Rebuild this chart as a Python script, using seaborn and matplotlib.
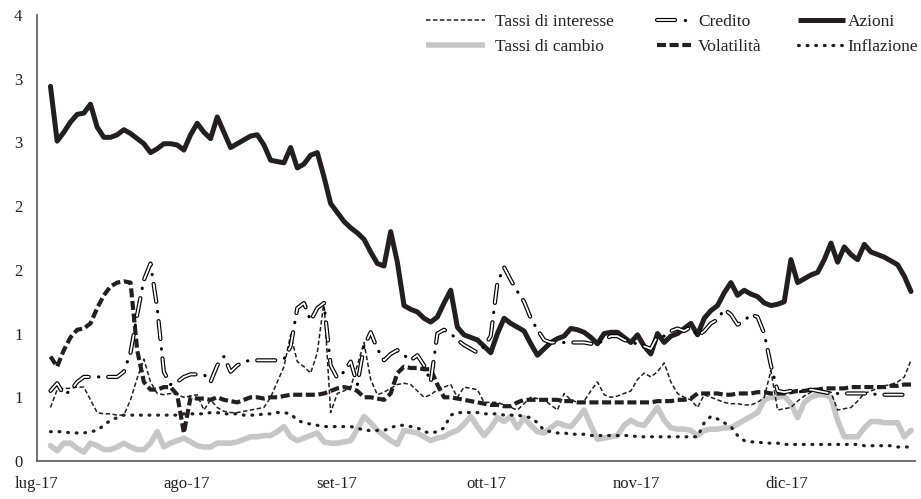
import numpy as np
import pandas as pd
import seaborn as sns
import matplotlib.pyplot as plt
from matplotlib.lines import Line2D
from matplotlib.legend_handler import HandlerTuple

# Axis labels
months = ["lug-17", "ago-17", "set-17", "ott-17", "nov-17", "dic-17"]
y_ticks = [0, 0.5, 1, 1.5, 2, 2.5, 3, 3.5]
y_labels = ["0", "1", "1", "2", "2", "3", "3", "4"]

# Daily series (business days, Jul-Dec 2017)
tassi_interesse = [
    0.42, 0.56, 0.57, 0.57, 0.58, 0.58, 0.48, 0.38, 0.37, 0.37,
    0.36, 0.36, 0.48, 0.65, 0.80, 0.62, 0.53, 0.52, 0.53, 0.52,
    0.50, 0.51, 0.52, 0.40, 0.48, 0.42, 0.39, 0.38, 0.38, 0.39,
    0.40, 0.41, 0.42, 0.50, 0.62, 0.74, 0.99, 0.78, 0.74, 0.69,
    0.85, 1.25, 0.38, 0.53, 0.55, 0.58, 0.75, 0.93, 0.64, 0.52,
    0.54, 0.57, 0.60, 0.61, 0.60, 0.55, 0.50, 0.52, 0.56, 0.58,
    0.60, 0.50, 0.58, 0.57, 0.56, 0.46, 0.46, 0.46, 0.44, 0.42,
    0.40, 0.45, 0.50, 0.49, 0.48, 0.44, 0.40, 0.53, 0.48, 0.46,
    0.47, 0.55, 0.62, 0.52, 0.50, 0.51, 0.53, 0.55, 0.64, 0.69,
    0.66, 0.70, 0.77, 0.62, 0.53, 0.50, 0.48, 0.42, 0.52, 0.50,
    0.48, 0.46, 0.45, 0.45, 0.44, 0.44, 0.46, 0.50, 0.71, 0.40,
    0.41, 0.42, 0.47, 0.51, 0.54, 0.56, 0.55, 0.54, 0.40, 0.41,
    0.42, 0.47, 0.53, 0.55, 0.57, 0.59, 0.60, 0.62, 0.66, 0.79,
]
tassi_cambio = [
    0.12, 0.08, 0.14, 0.14, 0.10, 0.07, 0.14, 0.12, 0.09, 0.09,
    0.11, 0.14, 0.11, 0.09, 0.09, 0.14, 0.23, 0.11, 0.14, 0.16,
    0.18, 0.15, 0.12, 0.11, 0.11, 0.14, 0.14, 0.14, 0.15, 0.17,
    0.19, 0.19, 0.20, 0.20, 0.23, 0.27, 0.19, 0.16, 0.18, 0.20,
    0.22, 0.15, 0.14, 0.14, 0.15, 0.16, 0.25, 0.35, 0.30, 0.24,
    0.20, 0.16, 0.13, 0.24, 0.23, 0.22, 0.19, 0.16, 0.18, 0.19,
    0.22, 0.24, 0.29, 0.35, 0.27, 0.20, 0.26, 0.34, 0.31, 0.35,
    0.26, 0.34, 0.28, 0.23, 0.22, 0.26, 0.30, 0.28, 0.27, 0.33,
    0.40, 0.28, 0.17, 0.18, 0.19, 0.20, 0.28, 0.32, 0.29, 0.28,
    0.35, 0.42, 0.32, 0.26, 0.25, 0.25, 0.24, 0.20, 0.24, 0.25,
    0.25, 0.26, 0.26, 0.29, 0.32, 0.35, 0.38, 0.48, 0.50, 0.50,
    0.51, 0.45, 0.34, 0.46, 0.50, 0.52, 0.52, 0.50, 0.32, 0.19,
    0.19, 0.19, 0.26, 0.31, 0.31, 0.30, 0.30, 0.30, 0.19, 0.24,
]
credito = [
    0.55, 0.61, 0.52, 0.55, 0.62, 0.66, 0.66, 0.66, 0.66, 0.66,
    0.66, 0.70, 0.85, 1.15, 1.42, 1.55, 1.20, 0.70, 0.60, 0.62,
    0.66, 0.68, 0.68, 0.68, 0.62, 0.75, 0.82, 0.70, 0.75, 0.78,
    0.79, 0.79, 0.79, 0.79, 0.79, 0.80, 0.90, 1.20, 1.24, 1.10,
    1.20, 1.24, 0.75, 0.65, 0.70, 0.78, 0.60, 0.90, 1.01, 0.88,
    0.79, 0.84, 0.87, 0.83, 0.79, 0.83, 0.75, 0.62, 1.00, 1.03,
    1.00, 0.95, 0.91, 0.88, 0.85, 0.90, 0.98, 1.40, 1.52, 1.42,
    1.33, 1.25, 1.12, 1.03, 0.95, 0.93, 0.93, 0.93, 0.93, 0.93,
    0.93, 0.92, 0.92, 0.95, 0.98, 0.98, 0.95, 0.93, 0.92, 0.90,
    0.88, 0.98, 0.98, 1.02, 1.04, 1.02, 1.05, 0.98, 1.02, 1.08,
    1.11, 1.19, 1.15, 1.07, 1.10, 1.15, 1.13, 1.00, 0.75, 0.55,
    0.54, 0.55, 0.54, 0.55, 0.56, 0.55, 0.54, 0.53, 0.53, 0.53,
    0.53, 0.53, 0.53, 0.53, 0.52, 0.52, 0.52, 0.52, 0.52, 0.52,
]
volatilita = [
    0.82, 0.74, 0.87, 0.97, 1.03, 1.04, 1.08, 1.20, 1.30, 1.37,
    1.40, 1.41, 1.40, 0.87, 0.62, 0.56, 0.56, 0.58, 0.58, 0.52,
    0.22, 0.50, 0.49, 0.49, 0.48, 0.50, 0.48, 0.47, 0.46, 0.48,
    0.50, 0.50, 0.49, 0.50, 0.50, 0.51, 0.52, 0.52, 0.52, 0.52,
    0.52, 0.53, 0.55, 0.57, 0.58, 0.57, 0.55, 0.50, 0.50, 0.49,
    0.48, 0.53, 0.69, 0.74, 0.73, 0.73, 0.72, 0.72, 0.60, 0.50,
    0.50, 0.49, 0.48, 0.47, 0.46, 0.45, 0.44, 0.44, 0.43, 0.43,
    0.46, 0.48, 0.48, 0.48, 0.48, 0.48, 0.48, 0.47, 0.47, 0.46,
    0.46, 0.46, 0.46, 0.46, 0.46, 0.46, 0.46, 0.46, 0.46, 0.46,
    0.46, 0.47, 0.47, 0.47, 0.48, 0.48, 0.49, 0.53, 0.53, 0.53,
    0.53, 0.52, 0.52, 0.53, 0.53, 0.53, 0.54, 0.54, 0.53, 0.53,
    0.53, 0.54, 0.55, 0.55, 0.56, 0.56, 0.57, 0.57, 0.57, 0.57,
    0.58, 0.58, 0.58, 0.58, 0.58, 0.58, 0.59, 0.59, 0.60, 0.60,
]
azioni = [
    2.94, 2.51, 2.58, 2.66, 2.72, 2.73, 2.80, 2.62, 2.54, 2.54,
    2.56, 2.60, 2.57, 2.53, 2.49, 2.42, 2.45, 2.49, 2.49, 2.48,
    2.44, 2.56, 2.65, 2.58, 2.53, 2.70, 2.58, 2.46, 2.49, 2.52,
    2.55, 2.56, 2.48, 2.36, 2.35, 2.34, 2.46, 2.30, 2.33, 2.40,
    2.42, 2.23, 2.02, 1.95, 1.88, 1.83, 1.79, 1.74, 1.64, 1.55,
    1.53, 1.80, 1.56, 1.22, 1.19, 1.17, 1.12, 1.09, 1.13, 1.24,
    1.34, 1.05, 0.99, 0.97, 0.95, 0.90, 0.85, 1.00, 1.12, 1.08,
    1.05, 1.02, 0.92, 0.83, 0.88, 0.93, 0.96, 0.98, 1.04, 1.03,
    1.01, 0.97, 0.92, 1.00, 1.01, 1.01, 0.97, 0.93, 0.99, 0.90,
    0.84, 1.00, 0.93, 0.98, 1.00, 1.04, 1.08, 0.99, 1.12, 1.18,
    1.22, 1.32, 1.40, 1.30, 1.34, 1.31, 1.29, 1.24, 1.22, 1.23,
    1.25, 1.58, 1.40, 1.43, 1.46, 1.48, 1.58, 1.71, 1.56, 1.68,
    1.62, 1.58, 1.70, 1.64, 1.62, 1.60, 1.57, 1.54, 1.45, 1.33,
]
inflazione = [
    0.23, 0.23, 0.23, 0.22, 0.22, 0.22, 0.23, 0.24, 0.28, 0.32,
    0.34, 0.36, 0.36, 0.36, 0.36, 0.36, 0.36, 0.36, 0.36, 0.36,
    0.37, 0.37, 0.37, 0.37, 0.38, 0.38, 0.37, 0.37, 0.37, 0.36,
    0.36, 0.36, 0.37, 0.37, 0.38, 0.38, 0.37, 0.32, 0.30, 0.29,
    0.28, 0.27, 0.27, 0.27, 0.27, 0.27, 0.26, 0.24, 0.24, 0.24,
    0.24, 0.26, 0.28, 0.28, 0.27, 0.26, 0.23, 0.22, 0.23, 0.26,
    0.36, 0.38, 0.38, 0.38, 0.38, 0.37, 0.37, 0.37, 0.36, 0.36,
    0.36, 0.35, 0.34, 0.30, 0.24, 0.23, 0.22, 0.22, 0.21, 0.21,
    0.21, 0.20, 0.20, 0.20, 0.20, 0.20, 0.20, 0.20, 0.19, 0.19,
    0.19, 0.19, 0.19, 0.19, 0.19, 0.19, 0.19, 0.19, 0.30, 0.35,
    0.33, 0.30, 0.27, 0.20, 0.16, 0.15, 0.15, 0.14, 0.14, 0.14,
    0.13, 0.13, 0.13, 0.13, 0.13, 0.13, 0.13, 0.13, 0.13, 0.13,
    0.13, 0.13, 0.12, 0.12, 0.12, 0.12, 0.12, 0.11, 0.11, 0.11,
]

df = pd.DataFrame({
    "Tassi di interesse": tassi_interesse,
    "Tassi di cambio": tassi_cambio,
    "Credito": credito,
    "Volatilità": volatilita,
    "Azioni": azioni,
    "Inflazione": inflazione,
})
df["obs"] = np.arange(len(df))

sns.set_style("white")
plt.rcParams["font.family"] = ["Liberation Serif", "DejaVu Serif"]
plt.rcParams["lines.scale_dashes"] = False

ink = "#231f20"
axis_grey = "#595959"

fig = plt.figure(figsize=(9.21, 4.99), dpi=100)
ax = fig.add_axes([37 / 921, 38 / 499, (915 - 37) / 921, (461 - 15) / 499])

# styles: (color, linewidth, linestyle, capstyle)
styles = {
    "Tassi di cambio": ("#c6c6c6", 4.0, "-", "round"),
    "Azioni": (ink, 3.6, "-", "round"),
    "Volatilità": (ink, 3.0, (0, (6.5, 2.6)), "butt"),
    "Tassi di interesse": (ink, 1.1, (0, (3.2, 1.8)), "butt"),
    "Inflazione": (ink, 2.3, (0, (0.6, 5.6)), "round"),
}
handles = {}
for name, (col, lw, ls, cap) in styles.items():
    sns.lineplot(data=df, x="obs", y=name, ax=ax, color=col, linewidth=lw,
                 solid_joinstyle="round", solid_capstyle="round")
    line = ax.lines[-1]
    line.set_linestyle(ls)
    line.set_dash_capstyle(cap)
    handles[name] = Line2D([], [], color=col, linewidth=lw, linestyle=ls,
                           dash_capstyle=cap, solid_capstyle="butt")

# Credito: hollow dash plus a dot
credito_parts = [
    ("black", 3.0, (0, (13, 14)), "round"),
    ("white", 1.3, (0, (13, 14)), "round"),
    ("black", 2.2, (7, (0.3, 26.7)), "round"),
]
credito_handles = []
for col, lw, ls, cap in credito_parts:
    sns.lineplot(data=df, x="obs", y="Credito", ax=ax, color=col, linewidth=lw)
    line = ax.lines[-1]
    line.set_linestyle(ls)
    line.set_dash_capstyle(cap)
    credito_handles.append(Line2D([], [], color=col, linewidth=lw, linestyle=ls,
                                  dash_capstyle=cap))
handles["Credito"] = tuple(credito_handles)

ax.set_xlim(-2.02, 129.6)
ax.set_ylim(0, 3.5)
ax.set_xticks([-2.02 + 22.475 * k for k in range(len(months))])
ax.set_xticklabels(months)
ax.set_yticks(y_ticks)
ax.set_yticklabels(y_labels)
ax.set_xlabel("")
ax.set_ylabel("")

for side in ["top", "right"]:
    ax.spines[side].set_visible(False)
for side in ["left", "bottom"]:
    ax.spines[side].set_color(axis_grey)
    ax.spines[side].set_linewidth(1.2)
ax.tick_params(axis="both", direction="out", length=5.5, width=1.2,
               color=axis_grey, labelsize=12, labelcolor=ink)
ax.tick_params(axis="y", pad=5)
ax.tick_params(axis="x", pad=5)

# legend columns: labels, left pixel, handle length, text pad
columns = [
    (["Tassi di interesse", "Tassi di cambio"], 426, 3.4, 0.55),
    (["Credito", "Volatilità"], 657, 1.95, 0.4),
    (["Azioni", "Inflazione"], 798, 2.7, 0.15),
]
for names, xpix, hlen, tpad in columns:
    leg = fig.legend([handles[n] for n in names], names,
                     loc="upper left", bbox_to_anchor=(xpix / 921, 1 - 14 / 499),
                     frameon=False, borderpad=0, borderaxespad=0,
                     handlelength=hlen, handletextpad=tpad, labelspacing=0.52,
                     fontsize=12.5, handler_map={tuple: HandlerTuple(ndivide=1)})
    for t in leg.get_texts():
        t.set_color(ink)

fig.savefig("out.png", dpi=100)
